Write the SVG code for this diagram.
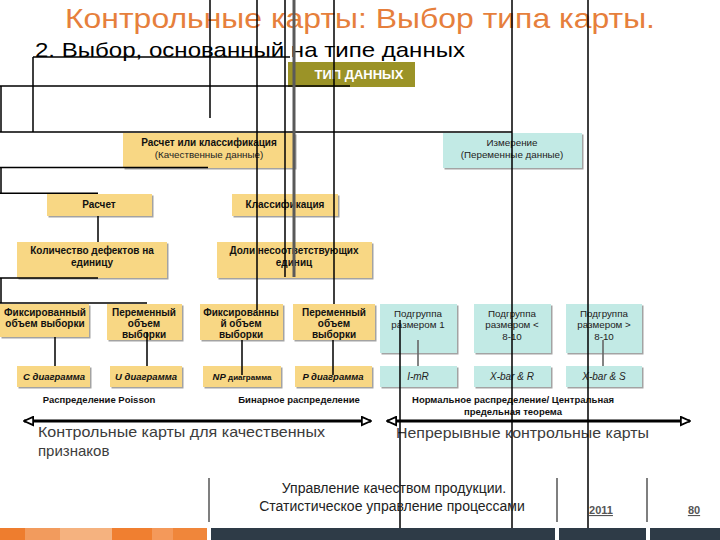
<svg xmlns="http://www.w3.org/2000/svg" width="720" height="540" viewBox="0 0 720 540">
<defs>
<marker id="ah" viewBox="0 0 12 12" refX="11" refY="6" markerWidth="11" markerHeight="11" markerUnits="userSpaceOnUse" orient="auto-start-reverse">
<path d="M1,1.5 L11,6 L1,10.5 Z" fill="#fff" stroke="#000" stroke-width="2"/>
</marker>
</defs>
<style>
text{font-family:"Liberation Sans",Arial,sans-serif}
.y{fill:#F8D784}
.c{fill:#C2EAE5}
.sh{fill:#A3A3A3}
.b{font-size:10px;font-weight:bold;fill:#111;text-anchor:middle}
.n{font-size:9.8px;fill:#222;text-anchor:middle}
.bi{font-size:9.5px;font-weight:bold;font-style:italic;fill:#111;text-anchor:middle}
.i{font-size:10px;font-style:italic;fill:#222;text-anchor:middle}
.lb{font-size:9.5px;font-weight:bold;fill:#111;text-anchor:middle}
.ln{stroke:#000;stroke-width:1.5;fill:none}
.gl{stroke:#666;stroke-width:1.6;fill:none}
.big{font-size:15px;fill:#3c3c3c}
.ft{font-size:14px;fill:#222;text-anchor:middle}
.pg{font-size:11px;font-weight:bold;fill:#555;text-anchor:middle;text-decoration:underline}
</style>
<rect width="720" height="540" fill="#fff"/>
<text x="360" y="28" font-size="28" fill="#E67F3C" text-anchor="middle" textLength="590" lengthAdjust="spacingAndGlyphs">Контрольные карты: Выбор типа карты.</text>
<text x="35" y="57" font-size="21" fill="#000" textLength="430" lengthAdjust="spacingAndGlyphs">2. Выбор, основанный на типе данных</text>

<g id="n_type"><rect x="288" y="62" width="127" height="25" fill="#9B9327"/><text x="359" y="79" font-size="13" font-weight="bold" fill="#fff" text-anchor="middle">ТИП ДАННЫХ</text></g>

<g id="n_qual"><rect class="sh" x="124.5" y="134.5" width="172" height="35"/><rect class="y" x="123" y="133" width="172" height="35"/><text class="b" x="209" y="146">Расчет или классификация</text><text class="n" x="209" y="158">(Качественные данные)</text></g>
<g id="n_meas"><rect class="sh" x="444.5" y="134.5" width="139" height="35"/><rect class="c" x="443" y="133" width="139" height="35"/><text class="n" x="512" y="146">Измерение</text><text class="n" x="512" y="158">(Переменные данные)</text></g>

<g id="n_calc"><rect class="sh" x="48.5" y="195.5" width="105" height="22"/><rect class="y" x="47" y="194" width="105" height="22"/><text class="b" x="99" y="208">Расчет</text></g>
<g id="n_class"><rect class="sh" x="233.5" y="195.5" width="106" height="22"/><rect class="y" x="232" y="194" width="106" height="22"/><text class="b" x="285" y="208">Классификация</text></g>

<g id="n_defects"><rect class="sh" x="18.5" y="243.5" width="150" height="36"/><rect class="y" x="17" y="242" width="150" height="36"/><text class="b" x="92" y="254">Количество дефектов на</text><text class="b" x="92" y="266">единицу</text></g>
<g id="n_share"><rect class="sh" x="218.5" y="243.5" width="155" height="36"/><rect class="y" x="217" y="242" width="155" height="36"/><text class="b" x="294" y="254">Доли несоответствующих</text><text class="b" x="294" y="266">единиц</text></g>

<g id="n_fix1"><rect class="sh" x="1.5" y="305.5" width="89" height="33"/><rect class="y" x="0" y="304" width="89" height="33"/><text class="b" x="45" y="316">Фиксированный</text><text class="b" x="45" y="327">объем выборки</text></g>
<g id="n_var1"><rect class="sh" x="108.5" y="305.5" width="75" height="36"/><rect class="y" x="107" y="304" width="75" height="36"/><text class="b" x="144" y="316">Переменный</text><text class="b" x="144" y="327">объем</text><text class="b" x="144" y="338">выборки</text></g>
<g id="n_fix2"><rect class="sh" x="201.5" y="305.5" width="83" height="36"/><rect class="y" x="200" y="304" width="83" height="36"/><text class="b" x="241" y="316">Фиксированны</text><text class="b" x="241" y="327">й объем</text><text class="b" x="241" y="338">выборки</text></g>
<g id="n_var2"><rect class="sh" x="294.5" y="305.5" width="82" height="36"/><rect class="y" x="293" y="304" width="82" height="36"/><text class="b" x="334" y="316">Переменный</text><text class="b" x="334" y="327">объем</text><text class="b" x="334" y="338">выборки</text></g>

<g id="n_sub1"><rect class="sh" x="381.5" y="305.5" width="77" height="49"/><rect class="c" x="380" y="304" width="77" height="49"/><text class="n" x="418" y="317">Подгруппа</text><text class="n" x="418" y="328">размером 1</text></g>
<g id="n_sub2"><rect class="sh" x="475.5" y="305.5" width="77" height="49"/><rect class="c" x="474" y="304" width="77" height="49"/><text class="n" x="512" y="317">Подгруппа</text><text class="n" x="512" y="328">размером &lt;</text><text class="n" x="512" y="340">8-10</text></g>
<g id="n_sub3"><rect class="sh" x="567.5" y="305.5" width="76" height="49"/><rect class="c" x="566" y="304" width="76" height="49"/><text class="n" x="604" y="317">Подгруппа</text><text class="n" x="604" y="328">размером &gt;</text><text class="n" x="604" y="340">8-10</text></g>

<g id="n_c"><rect class="sh" x="18.5" y="367.5" width="73" height="21"/><rect class="y" x="17" y="366" width="73" height="21"/><text class="bi" x="54" y="380">С диаграмма</text></g>
<g id="n_u"><rect class="sh" x="111.5" y="367.5" width="72" height="21"/><rect class="y" x="110" y="366" width="72" height="21"/><text class="bi" x="146" y="380">U  диаграмма</text></g>
<g id="n_np"><rect class="sh" x="204.5" y="367.5" width="78" height="21"/><rect class="y" x="203" y="366" width="78" height="21"/><text class="bi" x="242" y="379.5">NP <tspan font-style="normal" font-size="8">диаграмма</tspan></text></g>
<g id="n_p"><rect class="sh" x="296.5" y="367.5" width="77" height="21"/><rect class="y" x="295" y="366" width="77" height="21"/><text class="bi" x="333" y="380">P  диаграмма</text></g>
<g id="n_imr"><rect class="sh" x="381.5" y="367.5" width="77" height="21"/><rect class="c" x="380" y="366" width="77" height="21"/><text class="i" x="418" y="380">I-mR</text></g>
<g id="n_xr"><rect class="sh" x="475.5" y="367.5" width="77" height="21"/><rect class="c" x="474" y="366" width="77" height="21"/><text class="i" x="512" y="380">X-bar &amp; R</text></g>
<g id="n_xs"><rect class="sh" x="567.5" y="367.5" width="76" height="21"/><rect class="c" x="566" y="366" width="76" height="21"/><text class="i" x="604" y="380">X-bar &amp; S</text></g>

<g id="labels">
<text class="lb" x="99" y="403">Распределение Poisson</text>
<text class="lb" x="299" y="403">Бинарное распределение</text>
<text class="lb" x="513" y="403">Нормальное распределение/ Центральная</text>
<text class="lb" x="513" y="415">предельная теорема</text>
<text class="big" x="38" y="437" textLength="287" lengthAdjust="spacingAndGlyphs">Контрольные карты для качественных</text>
<text class="big" x="38" y="456">признаков</text>
<text class="big" x="396" y="438" textLength="253" lengthAdjust="spacingAndGlyphs">Непрерывные контрольные карты</text>
</g>

<g id="connectors">
<line x1="24" y1="421" x2="371" y2="421" stroke="#000" stroke-width="3" marker-start="url(#ah)" marker-end="url(#ah)"/>
<line x1="387" y1="421" x2="690" y2="421" stroke="#000" stroke-width="3" marker-start="url(#ah)" marker-end="url(#ah)"/>
<path class="ln" d="M33,57 H290 M33,57 V132 M0,86 H350 M1,86 V132 M0,132 H512 M0,167.5 H208 M1,167.5 V193.3 M0,193.3 H98 M0,278 H98 M1,278 V303 M0,303 H147"/>
<path class="ln" d="M98,216 V242 M55,337 V366 M147,332 V366 M242,340 V375 M333,340 V375"/>
<path class="gl" d="M418,340 V366 M603,340 V366"/>
<path class="ln" d="M210,0 V118 M257,0 V310 M285,0 V277 M334,0 V304 M400,320 V540 M512,0 V540 M588,0 V540"/>
<path d="M294,0 V277" stroke="#5a5a5a" stroke-width="3" fill="none"/>
</g>

<g id="footer">
<path d="M209,478 V522 M557,478 V522 M647,478 V522" stroke="#555" stroke-width="1.5"/>
<text class="ft" x="394" y="493">Управление качеством продукции.</text>
<text class="ft" x="392" y="511">Статистическое управление процессами</text>
<text class="pg" x="601" y="514">2011</text>
<text class="pg" x="694" y="514">80</text>
<rect x="0" y="528" width="25" height="12" fill="#EE7D2E"/>
<rect x="25" y="528" width="35" height="12" fill="#F29B5D"/>
<rect x="60" y="528" width="52" height="12" fill="#F5B27F"/>
<rect x="112" y="528" width="40" height="12" fill="#F07F30"/>
<rect x="152" y="528" width="21" height="12" fill="#F4995A"/>
<rect x="173" y="528" width="34" height="12" fill="#F0863A"/>
<rect x="211" y="528" width="344" height="12" fill="#2E3B47"/>
<rect x="559" y="528" width="87" height="12" fill="#2E3B47"/>
<rect x="650" y="528" width="70" height="12" fill="#2E3B47"/>
</g>
</svg>
